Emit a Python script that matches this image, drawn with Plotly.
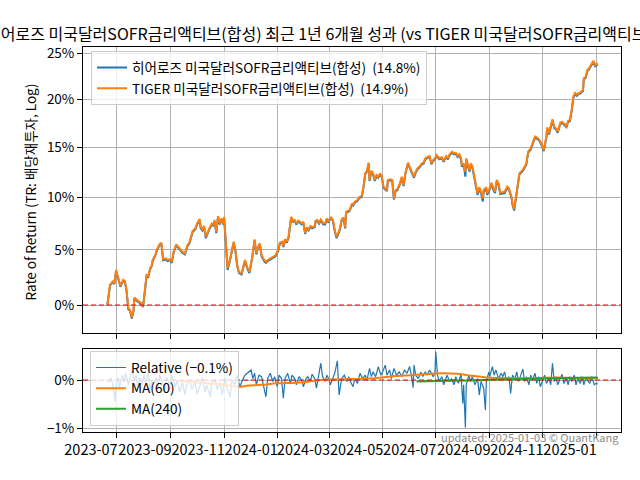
import plotly.graph_objects as go
import pandas as pd

BASE_DATE = "2023-07-01"   # day offsets below are calendar days after this date

hero_label = "히어로즈 미국달러SOFR금리액티브(합성)\u00a0 (14.8%)"
tiger_label = "TIGER 미국달러SOFR금리액티브(합성)\u00a0 (14.9%)"
title_text = "히어로즈 미국달러SOFR금리액티브(합성) 최근 1년 6개월 성과 (vs TIGER 미국달러SOFR금리액티브(합성))"

tr_days = [-11,-8,-5,-3,-1,0,3,4,7,9, 11,13,15,17,19,20,23,26,28,30, 32,34,36,38,40,41,44,46,49,51,
           53,56,58,61,63,65,68,70,73,75, 78,81,83,85,87,90,92,95,96,98, 100,102,104,106,109,111,112,114,116,118,
           120,122,123,125,127,130,132,134,136,138, 140,143,145,147,150,152,155,156,158,160,
           162,164,166,169,171,173,176,179,182,185, 187,190,191,193,195,197,200,202,204,206,
           208,210,212,214,216,218,220,222,224,227, 228,230,232,234,237,239,241,243,245,246,
           248,250,252,254,256,258,260,262,263,266, 267,270,271,273,276,278,281,283,285,287,
           289,290,292,294,296,298,300,302,304,306, 308,310,311,314,316,318,320,322,325,327,
           329,331,334,336,338,341,343,345,347,350, 352,354,357,359,361,363,365,367,370,373,
           375,378,380,382,385,387,389,391,393,395, 396,398,400,401,403,405,406,408,410,412,
           414,416,418,420,421,424,425,427,430,432, 434,436,438,440,443,445,448,450,453,454,
           456,458,460,462,465,467,470,472,475,477, 480,483,485,488,490,493,494,496,498,500,
           502,504,506,509,511,513,516,518,520,522, 524,526,528,530,532,535,536,538,540,542,
           545,547,549,552]

tiger_ret = [0.00,1.79,2.10,1.95,3.15,2.85,1.95,1.70,2.24,2.15,
             1.34,-0.29,-0.44,-1.08,-0.44,0.68,0.44,0.29,0.15,-0.09,
             1.18,2.69,2.60,3.30,3.61,4.07,4.53,5.06,5.55,5.67,
             4.13,4.22,4.07,4.13,3.91,4.84,5.52,5.30,4.99,4.84,
             4.68,5.46,5.67,6.24,6.80,7.03,7.50,7.91,7.18,6.93,
             7.25,6.24,6.70,7.03,7.50,7.34,7.82,6.70,8.20,7.50,
             7.98,7.50,8.13,5.93,3.30,4.22,4.99,5.77,4.99,3.61,
             2.99,2.85,3.45,4.07,3.30,2.99,4.22,4.68,5.99,4.68,
             5.30,5.62,4.53,4.07,3.90,4.07,4.20,4.40,4.50,4.99,
             5.67,5.77,5.37,5.99,5.77,6.24,8.13,7.76,7.82,7.50,
             7.76,7.66,7.50,7.66,6.60,7.12,6.93,7.25,7.12,7.25,
             7.76,7.82,7.56,7.88,7.50,7.50,7.98,7.66,8.07,8.07,
             7.82,6.87,6.24,6.55,7.03,7.88,8.07,7.12,8.62,8.72,
             8.78,9.43,9.27,9.59,9.75,10.02,10.15,11.05,12.37,12.64,
             13.44,11.71,12.64,12.37,11.71,12.20,12.03,12.37,12.10,11.05,
             10.89,10.72,11.71,11.78,11.71,9.90,10.72,10.79,11.43,12.03,
             11.21,12.37,13.44,13.03,12.77,12.03,12.53,12.87,13.03,13.37,
             13.44,13.88,14.04,14.11,13.37,13.71,13.88,14.21,13.88,13.98,
             13.63,14.11,13.88,14.31,14.55,14.38,14.45,14.11,14.31,13.88,
             13.20,13.37,12.53,13.88,13.20,12.70,13.37,13.10,12.20,11.21,
             10.40,10.99,10.56,9.90,10.72,10.99,10.40,10.72,11.43,10.89,
             10.56,11.71,11.38,10.46,10.56,10.56,11.05,10.89,10.07,9.43,
             8.85,9.90,11.05,12.37,12.64,12.87,13.37,14.55,14.89,15.43,
             16.10,15.95,15.77,15.23,14.72,16.10,17.05,16.43,17.28,17.88,
             17.11,16.94,16.60,17.53,17.63,17.46,17.18,17.74,17.81,18.86,
             20.30,20.66,20.48,20.66,20.73,21.00,22.27,22.38,23.14,23.33,
             23.87,24.16,23.67,23.87]

hero_ret = [0.00,1.74,2.04,1.88,3.08,2.78,1.88,1.62,2.16,2.07,
            1.26,-0.38,-0.52,-1.18,-0.52,0.60,0.36,0.21,0.07,-0.17,
            1.10,2.61,2.52,3.22,3.53,3.99,4.45,4.98,5.47,5.59,
            4.03,4.12,3.97,4.03,3.81,4.74,5.42,5.20,4.89,4.74,
            4.58,5.36,5.57,6.14,6.70,6.93,7.40,7.81,7.08,6.83,
            7.15,6.10,6.60,6.93,7.40,7.24,7.72,6.58,8.10,7.40,
            7.88,7.40,8.03,5.83,3.15,4.12,4.89,5.67,4.89,3.50,
            2.88,2.74,3.35,3.97,3.20,2.88,4.12,4.58,5.89,4.58,
            5.20,5.52,4.43,3.97,3.80,3.97,4.10,4.30,4.40,4.89,
            5.57,5.67,5.27,5.89,5.67,6.14,8.03,7.66,7.72,7.40,
            7.66,7.56,7.40,7.56,6.50,7.02,6.83,7.15,7.02,7.15,
            7.66,7.72,7.46,7.78,7.40,7.40,7.88,7.56,7.97,7.97,
            7.72,6.77,6.12,6.45,6.93,7.78,7.97,7.02,8.52,8.62,
            8.68,9.33,9.17,9.49,9.65,9.92,10.05,10.95,12.27,12.54,
            13.34,11.61,12.54,12.27,11.61,12.10,11.93,12.27,12.00,10.95,
            10.79,10.62,11.61,11.68,11.61,9.80,10.62,10.69,11.33,11.93,
            11.11,12.27,13.34,12.93,12.67,11.93,12.43,12.77,12.93,13.27,
            13.34,13.78,13.94,14.01,13.27,13.61,13.78,14.11,13.78,13.88,
            13.53,14.01,13.78,14.21,14.45,14.28,14.35,14.01,14.21,13.78,
            13.05,13.27,12.05,13.70,13.02,12.55,13.20,12.95,12.05,11.05,
            10.25,10.85,10.40,9.60,10.55,10.85,10.25,10.58,11.30,10.75,
            10.42,11.58,11.25,10.33,10.43,10.43,10.93,10.77,9.95,9.31,
            8.73,9.78,10.93,12.25,12.52,12.75,13.25,14.43,14.77,15.31,
            15.98,15.83,15.65,15.11,14.60,15.98,16.93,16.31,17.16,17.76,
            16.99,16.82,16.48,17.41,17.51,17.34,17.06,17.62,17.69,18.74,
            20.18,20.54,20.36,20.54,20.61,20.88,22.15,22.26,23.02,23.21,
            23.75,24.04,23.55,23.75]

rel_days = [-11,-9,-7,-5,-2,-1,1,3,6,8, 10,13,15,17,20,22,24,26,29,31,
            33,36,38,40,42,45,47,49,52,55, 57,61,63,67,69,72,75,78,80,84,
            86,90,92,95,98,101,103,107,109,113, 115,118,121,124,126,130,132,135,138,141,
            144,147,
            151,154,156,158,160,163,166,169,171,173, 176,179,181,184,186,189,191,193,196,199,
            201,204,206,209,212,214,217,219,222,224, 227,229,232,234,236,239,241,243,245,248,
            250,253,255,258,261,264,266,268,271,273, 276,279,282,285,287,290,292,294,297,300,
            303,305,308,310,313,315,318,321,324,327, 330,333,336,338,340,341,343,346,349,351,
            354,356,359,363,365,366,368,370,373,375, 379,382,384,387,389,392,395,397,398,400,
            401,404,406,408,411,414,416,418,421,423, 424,427,428,431,433,435,438,441,443,445,
            447,450,452,454,457,459,461,463,466,468, 470,473,475,477,480,482,484,486,489,491,
            493,496,498,500,502,504,506,509,511,513, 516,518,520,522,525,527,529,532,534,536,
            538,541,543,545,548,550,552]

rel_vals = [0.0,-0.05,0.05,-0.1,-0.45,-0.1,0.05,-0.15,0.1,-0.05,
            0.15,-0.1,0.05,0.2,0.0,0.1,-0.15,0.05,-0.1,0.1,
            -0.05,0.15,-0.2,0.0,-0.1,0.05,-0.15,0.1,-0.05,-0.2,
            0.05,-0.1,0.1,-0.15,0.0,-0.25,-0.05,-0.3,-0.1,0.0,
            -0.2,-0.05,-0.3,-0.1,0.05,-0.25,-0.1,-0.35,-0.05,0.0,
            -0.2,-0.05,-0.3,0.05,-0.15,-0.35,0.0,-0.1,0.1,-0.15,
            0.0,0.1,
            0.17,0.21,0.03,0.14,-0.10,0.10,0.07,-0.17,-0.35,0.03,
            0.14,-0.03,0.07,-0.14,0.10,0.03,-0.38,0.03,0.14,-0.07,
            0.10,0.03,-0.10,0.07,0.0,-0.14,0.03,0.07,-0.03,0.12,
            0.03,-0.17,0.14,0.35,0.07,-0.03,0.10,0.03,-0.10,0.07,
            0.14,0.40,-0.31,0.03,0.10,-0.03,0.07,-0.03,-0.14,0.03,
            -0.07,0.14,0.03,0.10,0.0,0.24,0.07,0.17,0.07,0.28,
            0.10,0.17,0.31,0.10,0.21,0.03,0.24,0.10,0.17,0.07,
            0.21,0.14,0.28,0.10,-0.16,0.31,0.10,0.03,0.17,0.07,
            0.17,0.10,0.21,0.07,0.14,0.59,0.10,-0.03,0.07,-0.10,
            0.10,-0.03,0.03,-0.10,0.07,-0.07,0.14,-0.49,-0.10,-0.99,
            -0.10,0.10,-0.03,0.07,-0.10,0.03,-0.31,-0.03,-0.17,-0.63,
            -0.03,0.17,0.07,0.28,0.10,0.21,0.03,0.14,0.07,0.17,
            0.0,0.07,-0.28,0.10,0.03,0.17,-0.03,0.07,0.23,-0.03,
            0.07,-0.10,0.10,0.0,0.14,-0.07,0.07,-0.14,0.03,0.10,
            -0.07,0.03,-0.10,0.35,-0.03,0.07,-0.10,0.03,0.12,-0.07,
            0.03,-0.10,0.07,-0.03,0.10,-0.10,0.03,-0.07,0.07,-0.10,
            0.03,-0.03,-0.07,0.07,-0.10,-0.07,-0.08]

ma60_days = [72,95,118,141,149,166,184,210,241,268,290,313,336,356,371,390,402,413,425,440,459,482,505,528,552]
ma60_vals = [-0.02,-0.05,-0.09,-0.14,-0.12,-0.10,-0.07,-0.05,0.01,0.02,0.03,0.07,0.10,0.125,0.14,0.13,0.10,
             0.08,0.05,0.04,0.035,0.04,0.05,0.04,0.035]

ma240_days = [344,382,421,459,497,530,552]
ma240_vals = [-0.03,-0.015,0.0,0.02,0.035,0.045,0.05]

x_tick_vals = ["2023-07-01","2023-09-01","2023-11-01","2024-01-01","2024-03-01",
               "2024-05-01","2024-07-01","2024-09-01","2024-11-01","2025-01-01"]
x_tick_text = ["2023-07","2023-09","2023-11","2024-01","2024-03",
               "2024-05","2024-07","2024-09","2024-11","2025-01"]
top_tick_vals = [1.00, 1.05, 1.10, 1.15, 1.20, 1.25]
top_tick_text = ["0%", "5%", "10%", "15%", "20%", "25%"]
bot_tick_vals = [-1, 0]
bot_tick_text = ["\u22121%", "0%"]


def to_dates(days):
    return pd.Timestamp(BASE_DATE) + pd.to_timedelta(days, unit="D")


FONT = "Noto Sans CJK KR"
BLUE, ORANGE, GREEN = "#1f77b4", "#ff7f0e", "#2ca02c"

fig = go.Figure()
tr_dates = to_dates(tr_days)
fig.add_trace(go.Scatter(x=tr_dates, y=[1 + v / 100 for v in hero_ret], mode="lines",
                         line=dict(color=BLUE, width=2), name=hero_label,
                         xaxis="x", yaxis="y", legend="legend"))
fig.add_trace(go.Scatter(x=tr_dates, y=[1 + v / 100 for v in tiger_ret], mode="lines",
                         line=dict(color=ORANGE, width=2), name=tiger_label,
                         xaxis="x", yaxis="y", legend="legend"))
fig.add_trace(go.Scatter(x=to_dates(rel_days), y=rel_vals, mode="lines",
                         line=dict(color=BLUE, width=1.2), name="Relative (\u22120.1%)",
                         xaxis="x2", yaxis="y2", legend="legend2"))
fig.add_trace(go.Scatter(x=to_dates(ma60_days), y=ma60_vals, mode="lines",
                         line=dict(color=ORANGE, width=2, shape="spline"), name="MA(60)",
                         xaxis="x2", yaxis="y2", legend="legend2"))
fig.add_trace(go.Scatter(x=to_dates(ma240_days), y=ma240_vals, mode="lines",
                         line=dict(color=GREEN, width=2, shape="spline"), name="MA(240)",
                         xaxis="x2", yaxis="y2", legend="legend2"))

x_range = ["2023-05-23", "2025-01-29 16:00"]
axis_common = dict(showline=True, mirror=True, linecolor="black", linewidth=1,
                   showgrid=True, gridcolor="#b0b0b0", gridwidth=1,
                   ticks="outside", ticklen=5, tickwidth=1, tickcolor="black",
                   zeroline=False, automargin=False)
ytick_font = dict(family=FONT, size=13.5, color="black")
xtick_font = dict(family=FONT, size=14.5, color="black")

fig.update_layout(
    width=640, height=480,
    margin=dict(l=83, r=19, t=47, b=48),
    paper_bgcolor="white", plot_bgcolor="white",
    font=dict(family=FONT, size=13, color="black"),
    xaxis=dict(domain=[0, 1], anchor="y", type="date", range=x_range, matches="x2",
               tickmode="array", tickvals=x_tick_vals, showticklabels=False,
               tickfont=xtick_font, **axis_common),
    yaxis=dict(domain=[0.2571, 1], anchor="x", type="log", range=[-0.01078, 0.09927],
               tickmode="array", tickvals=top_tick_vals, ticktext=top_tick_text,
               tickfont=ytick_font, **axis_common),
    xaxis2=dict(domain=[0, 1], anchor="y2", type="date", range=x_range,
                tickmode="array", tickvals=x_tick_vals, ticktext=x_tick_text,
                tickangle=0, ticklabelshift=-26, tickfont=xtick_font, **axis_common),
    yaxis2=dict(domain=[0, 0.2156], anchor="x2", range=[-1.083, 0.646],
                tickmode="array", tickvals=bot_tick_vals, ticktext=bot_tick_text,
                tickfont=ytick_font, **axis_common),
    legend=dict(x=0.0149, y=0.989, xanchor="left", yanchor="top",
                bgcolor="rgba(255,255,255,0.8)", bordercolor="#cccccc", borderwidth=1,
                font=dict(family=FONT, size=13.6, color="black"), tracegroupgap=0),
    legend2=dict(x=0.013, y=0.21, xanchor="left", yanchor="top",
                 bgcolor="rgba(255,255,255,0.8)", bordercolor="#cccccc", borderwidth=1,
                 font=dict(family=FONT, size=13.6, color="black"), tracegroupgap=0),
    showlegend=True,
)

fig.add_shape(type="line", xref="x domain", x0=0, x1=1, yref="y", y0=1, y1=1,
              line=dict(color="red", width=1, dash="5px,3px"), layer="above")
fig.add_shape(type="line", xref="x2 domain", x0=0, x1=1, yref="y2", y0=0, y1=0,
              line=dict(color="red", width=1, dash="5px,3px"), layer="above")

fig.add_annotation(text=title_text, xref="paper", yref="paper", x=-0.184, y=1.0364,
                   xanchor="left", yanchor="middle", showarrow=False,
                   font=dict(family=FONT, size=16, color="black"))
fig.add_annotation(text="Rate of Return (TR: 배당재투자, Log)", xref="paper", yref="paper",
                   x=-0.0985, y=0.622, xanchor="center", yanchor="middle", textangle=-90,
                   showarrow=False, font=dict(family=FONT, size=13.5, color="black"))
fig.add_annotation(text="updated: 2025-01-03 \u00a9 QuantKang", xref="paper", yref="paper",
                   x=1.0, y=-0.0117, xanchor="right", yanchor="middle", showarrow=False,
                   font=dict(family=FONT, size=11, color="#8c8c8c"))

fig.write_html("out.html", config={"displayModeBar": False},
               post_script="document.body.style.margin='0';document.body.style.padding='0';")
